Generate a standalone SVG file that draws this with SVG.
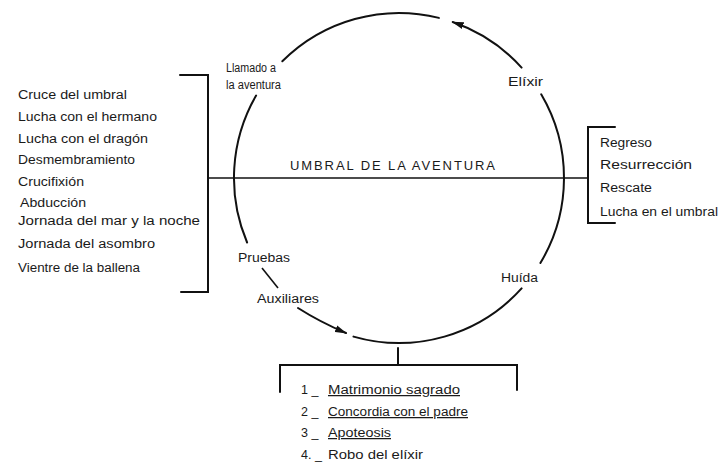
<svg xmlns="http://www.w3.org/2000/svg" width="724" height="462" viewBox="0 0 724 462">
<defs>
<style>
text{font-family:"Liberation Sans",Arial,sans-serif;font-size:12.5px;fill:#1a1a1a}
.ln{fill:none;stroke:#111;stroke-width:2;stroke-linecap:round}
.th{fill:none;stroke:#111;stroke-width:1.6}
.u{text-decoration:underline}
.cap{font-size:13px}
</style>
<marker id="ah" markerWidth="12" markerHeight="8" refX="11" refY="4" orient="auto" markerUnits="userSpaceOnUse">
<path d="M0,0.5 L12,4 L0,7.5 Z" fill="#111"/>
</marker>
</defs>
<rect width="724" height="462" fill="#fff"/>
<g id="connectors">
<path id="arc-top-left" class="ln" d="M282.3,61.3 A165,165 0 0 1 438.9,17.9"/>
<path id="arc-top-right" class="ln" d="M521.6,67.6 A165,165 0 0 0 452.7,22.0" marker-end="url(#ah)"/>
<path id="arc-right" class="ln" d="M541.2,94.3 A165,165 0 0 1 540.4,263.0"/>
<path id="arc-bottom" class="ln" d="M521.6,288.4 A165,165 0 0 1 353.5,336.6"/>
<path id="arc-left" class="ln" d="M256.1,95.5 A165,165 0 0 0 247.1,242.5"/>
<path id="pruebas-aux" class="th" d="M262,268 L278,288"/>
<path id="aux-arrow" class="ln" d="M298,308 Q320,322 346,333" marker-end="url(#ah)"/>
<path id="threshold-line" class="th" d="M208,178 L588,178"/>
<path id="bracket-left" class="ln" d="M180,75 H208 V292 H181"/>
<path id="bracket-right" class="ln" d="M615,127 H588 V223 H615"/>
<path id="bracket-bottom" class="ln" d="M398,348 V365 M280,392 V365 H517 V390"/>
</g>
<g id="threshold-label">
<text class="cap" x="290" y="170" textLength="205" lengthAdjust="spacing">UMBRAL DE LA AVENTURA</text>
</g>
<g id="node-llamado">
<text x="226" y="72" textLength="50" lengthAdjust="spacingAndGlyphs">Llamado a</text>
<text x="226" y="89" textLength="55" lengthAdjust="spacingAndGlyphs">la aventura</text>
</g>
<g id="node-elixir"><text x="508" y="86" textLength="35" lengthAdjust="spacingAndGlyphs">Elíxir</text></g>
<g id="node-pruebas"><text x="238" y="262" textLength="52" lengthAdjust="spacingAndGlyphs">Pruebas</text></g>
<g id="node-auxiliares"><text x="257" y="303" textLength="62" lengthAdjust="spacingAndGlyphs">Auxiliares</text></g>
<g id="node-huida"><text x="501" y="282" textLength="37" lengthAdjust="spacingAndGlyphs">Huída</text></g>
<g id="list-left">
<text x="18" y="99" textLength="109" lengthAdjust="spacingAndGlyphs">Cruce del umbral</text>
<text x="18" y="121" textLength="139" lengthAdjust="spacingAndGlyphs">Lucha con el hermano</text>
<text x="18" y="143" textLength="130" lengthAdjust="spacingAndGlyphs">Lucha con el dragón</text>
<text x="18" y="164" textLength="117" lengthAdjust="spacingAndGlyphs">Desmembramiento</text>
<text x="18" y="186" textLength="66" lengthAdjust="spacingAndGlyphs">Crucifixión</text>
<text x="20" y="207" textLength="66" lengthAdjust="spacingAndGlyphs">Abducción</text>
<text x="18" y="225" textLength="182" lengthAdjust="spacingAndGlyphs">Jornada del mar y la noche</text>
<text x="18" y="248" textLength="137" lengthAdjust="spacingAndGlyphs">Jornada del asombro</text>
<text x="18" y="272" textLength="122" lengthAdjust="spacingAndGlyphs">Vientre de la ballena</text>
</g>
<g id="list-right">
<text x="600" y="147" textLength="52" lengthAdjust="spacingAndGlyphs">Regreso</text>
<text x="600" y="169" textLength="92" lengthAdjust="spacingAndGlyphs">Resurrección</text>
<text x="600" y="192" textLength="52" lengthAdjust="spacingAndGlyphs">Rescate</text>
<text x="600" y="216" textLength="118" lengthAdjust="spacingAndGlyphs">Lucha en el umbral</text>
</g>
<g id="list-bottom">
<text x="301" y="394">1 _</text>
<text x="328" y="394" class="u" textLength="132" lengthAdjust="spacingAndGlyphs">Matrimonio sagrado</text>
<text x="301" y="416">2 _</text>
<text x="328" y="416" class="u" textLength="140" lengthAdjust="spacingAndGlyphs">Concordia con el padre</text>
<text x="301" y="437">3 _</text>
<text x="328" y="437" class="u" textLength="63" lengthAdjust="spacingAndGlyphs">Apoteosis</text>
<text x="301" y="459">4. _</text>
<text x="328" y="459" textLength="95" lengthAdjust="spacingAndGlyphs">Robo del elíxir</text>
</g>
</svg>
